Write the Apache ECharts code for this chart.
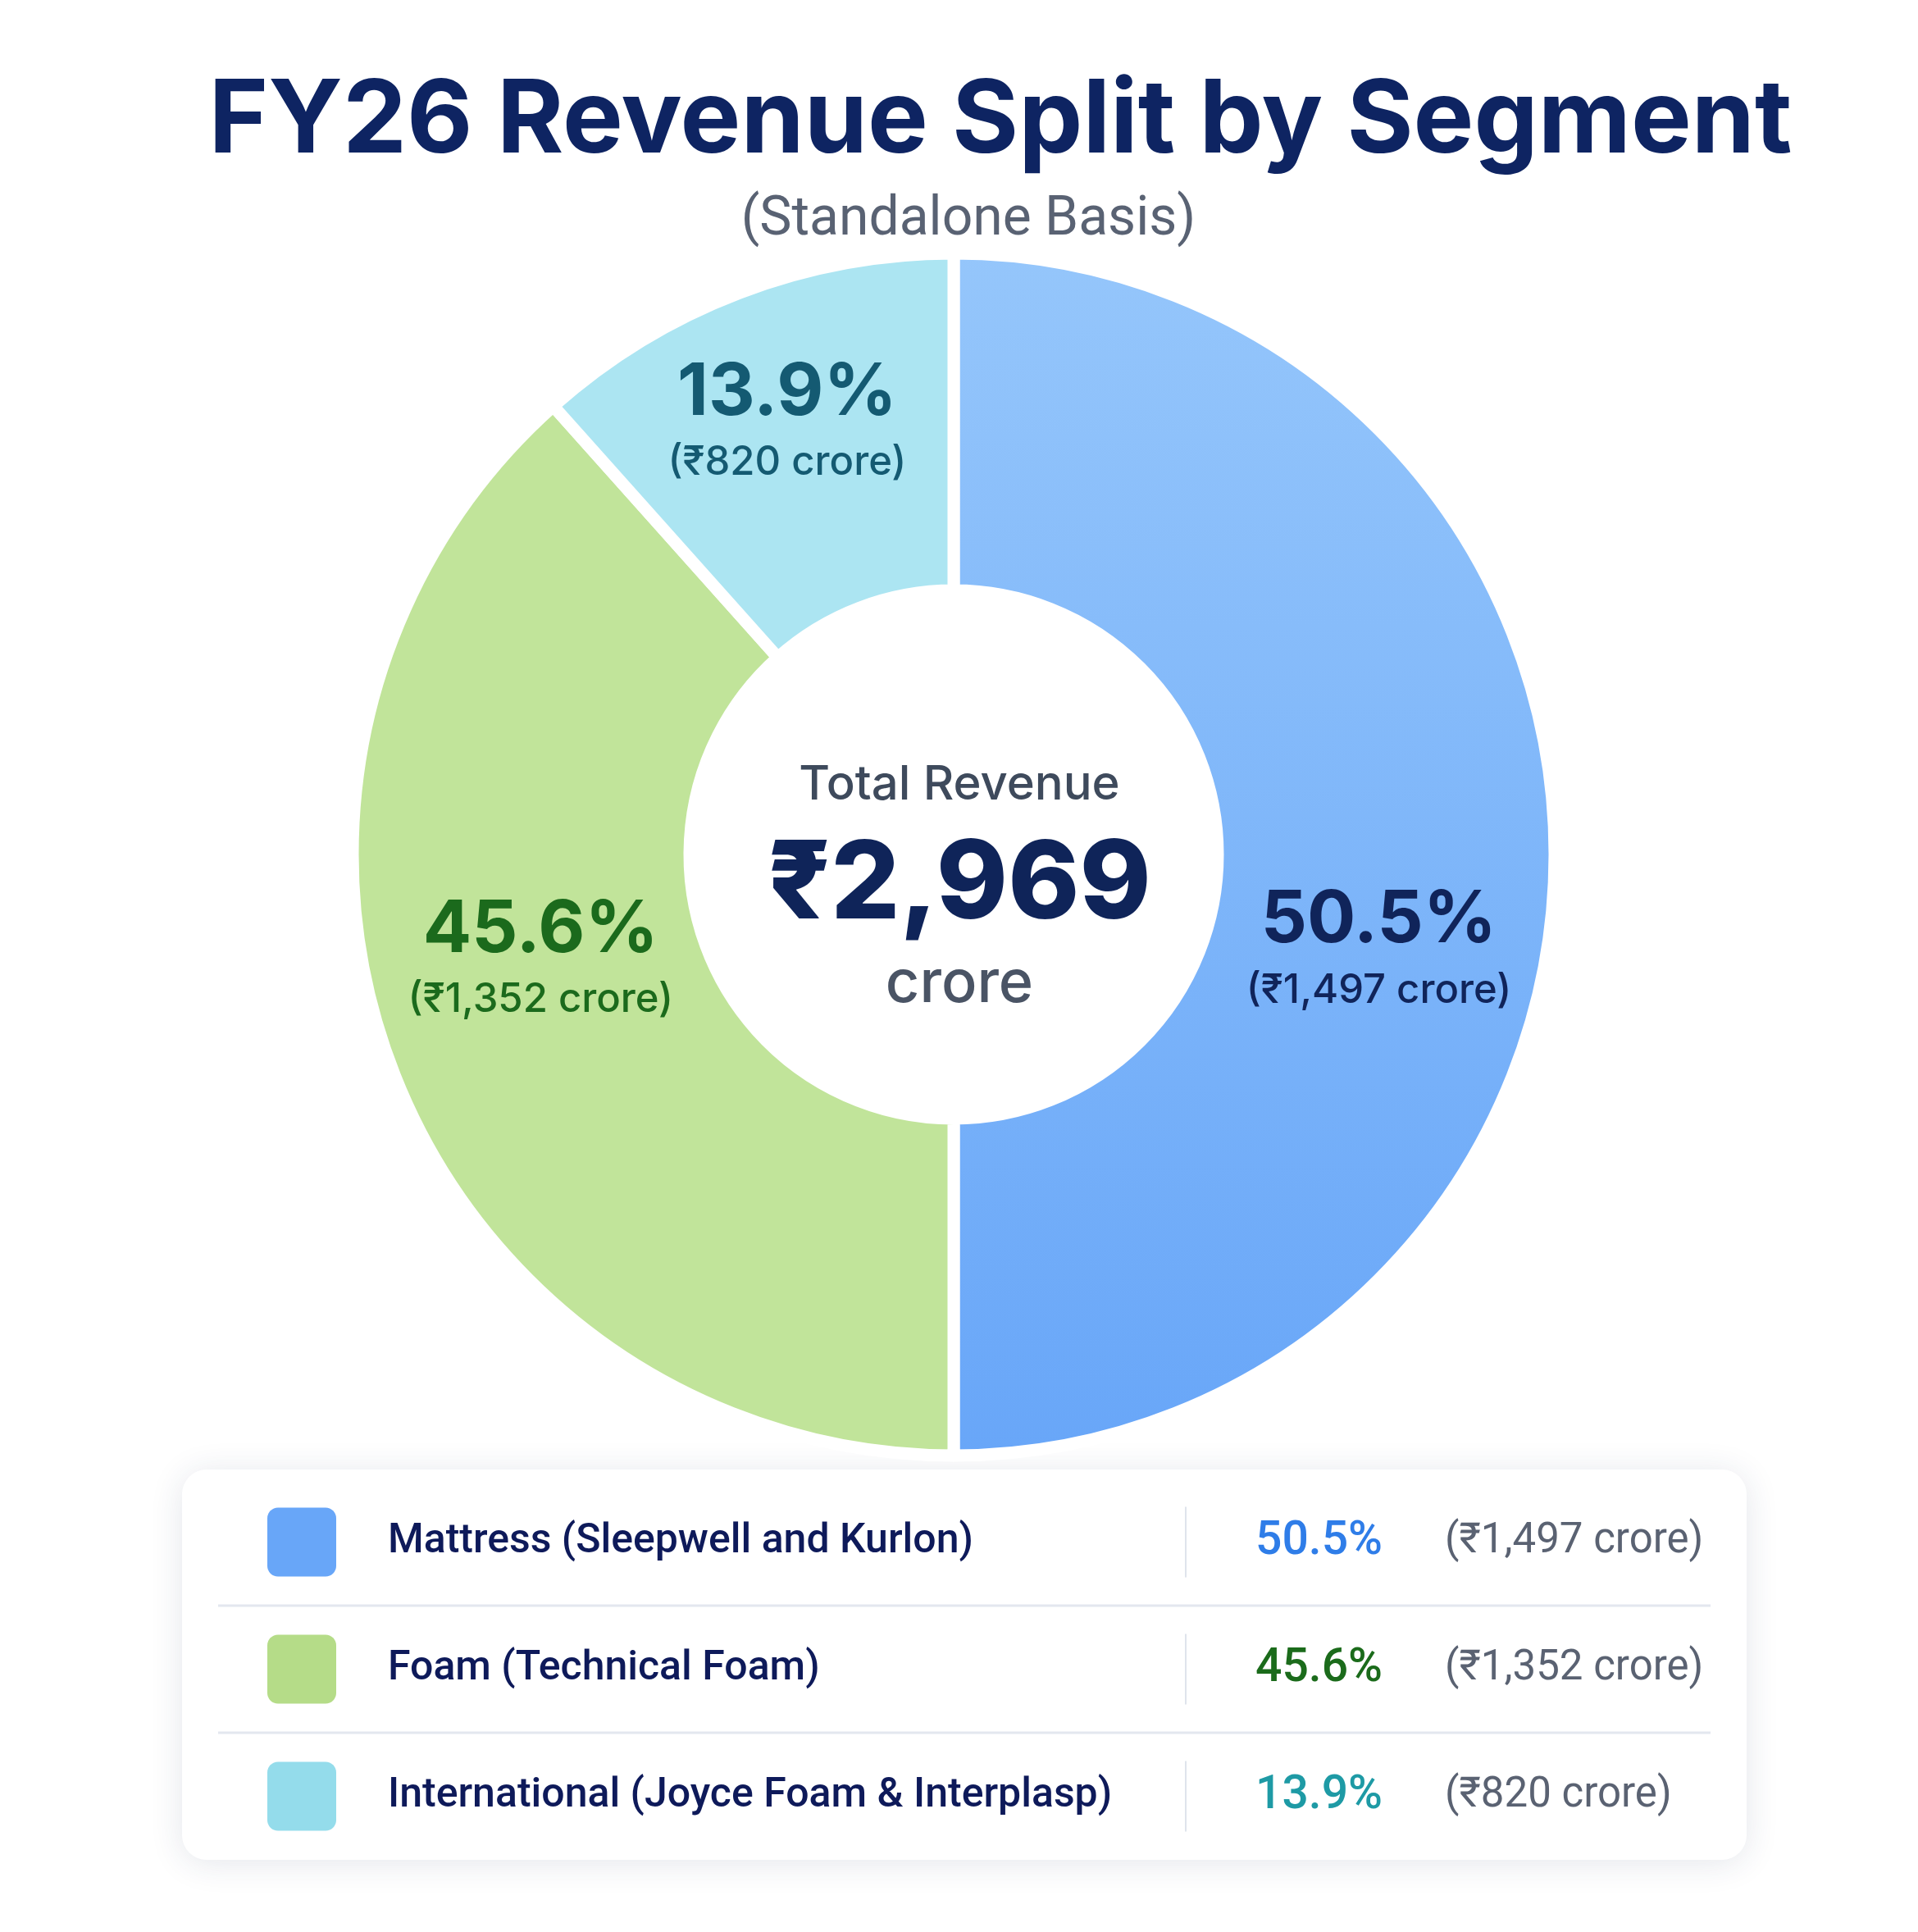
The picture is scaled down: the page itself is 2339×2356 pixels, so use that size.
<!DOCTYPE html>
<html lang="en">
<head>
    <meta charset="UTF-8">
    <title>FY26 Revenue Split by Segment</title>
    <script src="https://cdn.jsdelivr.net/npm/echarts@6/dist/echarts.min.js"></script>
    <style>
        html, body { margin: 0; padding: 0; background: #ffffff; }
    </style>
</head>
<body>
<div id="main" style="width: 2339px;height:2356px;"></div>
<script type="text/javascript">
    // segment data
    var segments = ['Mattress (Sleepwell and Kurlon)', 'Foam (Technical Foam)', 'International (Joyce Foam & Interplasp)'];
    var pctLabels = ['50.5%', '45.6%', '13.9%'];
    var croreLabels = ['(₹1,497 crore)', '(₹1,352 crore)', '(₹820 crore)'];
    // arc share as drawn in the picture (degrees of the ring / 3.6)
    var arcShare = [50.0, 38.4, 11.6];
    var totalLabel = '₹2,969';

    var sliceColors = [
        {type: 'linear', x: 0, y: 0, x2: 0, y2: 1, colorStops: [{offset: 0, color: '#95c6fb'}, {offset: 1, color: '#68a6f8'}]},
        '#c1e49a',
        '#ace5f2'
    ];
    var swatchColors = ['#68a6f8', '#b5dc88', '#94dceb'];
    var labelColors = ['#10245a', '#1b6a1c', '#145a72'];
    var legendPctColors = ['#2f7de8', '#1b6b1b', '#1e9aa5'];
    var labelOffsets = [[-12, 118], [-8, -60], [-14, -30]];

    var myChart = echarts.init(document.getElementById('main'));

    var pieData = [];
    for (var i = 0; i < segments.length; i++) {
        pieData.push({
            name: segments[i],
            value: arcShare[i],
            itemStyle: {color: sliceColors[i]},
            label: {
                offset: labelOffsets[i],
                formatter: '{p|' + pctLabels[i] + '}\n{c|' + croreLabels[i] + '}',
                rich: {
                    p: {fontFamily: 'Inter', fontWeight: 700, fontSize: 88, color: labelColors[i], lineHeight: 96, align: 'center'},
                    c: {fontFamily: 'Inter', fontWeight: 500, fontSize: 49, color: labelColors[i], lineHeight: 74, align: 'center'}
                }
            }
        });
    }

    // legend card built from the arrays
    var cardX = 222, cardY = 1792, cardW = 1908, cardH = 476;
    var rowH = 155, rowTop = 1803;
    var legendEls = [{
        type: 'rect',
        shape: {x: cardX, y: cardY, width: cardW, height: cardH, r: 30},
        style: {fill: '#ffffff', shadowBlur: 40, shadowColor: 'rgba(30,50,90,0.12)', shadowOffsetY: 4}
    }];
    for (var j = 0; j < segments.length; j++) {
        var cy = rowTop + rowH * j + rowH / 2;
        legendEls.push({
            type: 'rect',
            shape: {x: 326, y: cy - 42, width: 84, height: 84, r: 13},
            style: {fill: swatchColors[j]}
        });
        legendEls.push({
            type: 'text', x: 473, y: cy,
            style: {text: segments[j], fontFamily: 'Roboto', fontWeight: 500, fontSize: 50, fill: '#0e1a5a', verticalAlign: 'middle'}
        });
        legendEls.push({
            type: 'line',
            shape: {x1: 1446, y1: cy - 43, x2: 1446, y2: cy + 43},
            style: {stroke: '#dfe4ec', lineWidth: 2}
        });
        legendEls.push({
            type: 'text', x: 1686, y: cy,
            style: {text: pctLabels[j], fontFamily: 'Roboto', fontWeight: 500, fontSize: 57, fill: legendPctColors[j], align: 'right', verticalAlign: 'middle'}
        });
        legendEls.push({
            type: 'text', x: 1762, y: cy,
            style: {text: croreLabels[j], fontFamily: 'Roboto', fontWeight: 400, fontSize: 51, fill: '#5a6272', verticalAlign: 'middle'}
        });
        if (j < segments.length - 1) {
            legendEls.push({
                type: 'line',
                shape: {x1: 266, y1: cy + rowH / 2, x2: 2086, y2: cy + rowH / 2},
                style: {stroke: '#e3e7ef', lineWidth: 3}
            });
        }
    }

    option = {
        backgroundColor: '#ffffff',
        title: [
            {
                text: 'FY26 Revenue Split by Segment',
                left: 1215,
                textAlign: 'center',
                top: 82,
                textStyle: {fontFamily: 'Inter', fontWeight: 700, fontSize: 124, color: '#0e2462'}
            },
            {
                text: '(Standalone Basis)',
                left: 1176,
                textAlign: 'center',
                top: 231,
                textStyle: {fontFamily: 'Roboto', fontWeight: 400, fontSize: 66, color: '#596273'}
            }
        ],
        series: [
            {
                type: 'pie',
                center: [1163, 1042],
                radius: [322, 733],
                startAngle: 90,
                clockwise: true,
                silent: true,
                itemStyle: {borderColor: '#ffffff', borderWidth: 15},
                label: {show: true, position: 'inside'},
                labelLine: {show: false},
                data: pieData
            }
        ],
        graphic: [
            {type: 'text', x: 1170, y: 958, style: {text: 'Total Revenue', fontFamily: 'Inter', fontWeight: 500, fontSize: 58, fill: '#3e4a5c', align: 'center', verticalAlign: 'middle'}},
            {type: 'text', x: 1170, y: 1080, style: {text: totalLabel, fontFamily: 'Inter', fontWeight: 800, fontSize: 132, fill: '#0f2459', align: 'center', verticalAlign: 'middle'}},
            {type: 'text', x: 1170, y: 1200, style: {text: 'crore', fontFamily: 'Inter', fontWeight: 500, fontSize: 72, fill: '#4a5465', align: 'center', verticalAlign: 'middle'}}
        ].concat(legendEls)
    };
    myChart.setOption(option);
</script>
</body>
</html>
